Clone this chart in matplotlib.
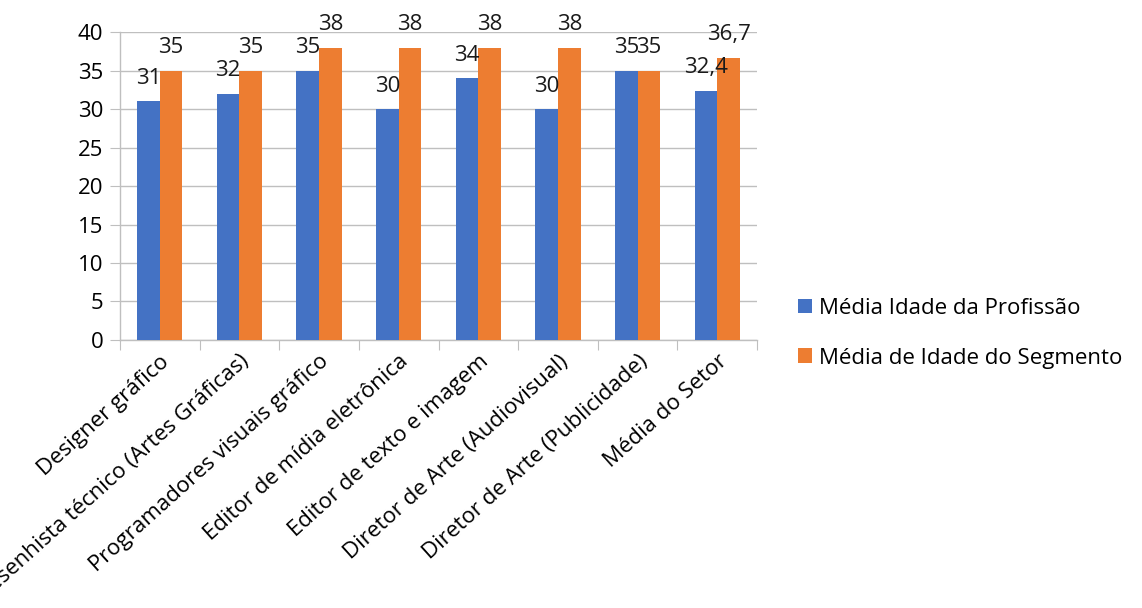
import matplotlib
matplotlib.use("Agg")
import matplotlib.pyplot as plt
import numpy as np

categorias = [
    "Designer gráfico",
    "Desenhista técnico (Artes Gráficas)",
    "Programadores visuais gráfico",
    "Editor de mídia eletrônica",
    "Editor de texto e imagem",
    "Diretor de Arte (Audiovisual)",
    "Diretor de Arte (Publicidade)",
    "Média do Setor",
]
idade_profissao = [31, 32, 35, 30, 34, 30, 35, 32.4]
idade_segmento = [35, 35, 38, 38, 38, 38, 35, 36.7]
series_nomes = ["Média Idade da Profissão", "Média de Idade do Segmento"]
y_ticks = [0, 5, 10, 15, 20, 25, 30, 35, 40]

AZUL = "#4472C4"
LARANJA = "#ED7D31"
CINZA = "#BFBFBF"

plt.rcParams["font.family"] = ["Open Sans", "DejaVu Sans"]
FS = 16


def fmt(v):
    s = f"{v:g}"
    return s.replace(".", ",")


fig = plt.figure(figsize=(11.42, 6.08), dpi=100)
ax = fig.add_axes([0.105, 0.441, 0.558, 0.506])

x = np.arange(len(categorias))
w = 0.285
b1 = ax.bar(x - w / 2, idade_profissao, w, color=AZUL, label=series_nomes[0], zorder=3)
b2 = ax.bar(x + w / 2, idade_segmento, w, color=LARANJA, label=series_nomes[1], zorder=3)

for bars, vals in ((b1, idade_profissao), (b2, idade_segmento)):
    for r, v in zip(bars, vals):
        ax.annotate(fmt(v), (r.get_x() + r.get_width() / 2, v),
                    xytext=(0, 9), textcoords="offset points",
                    ha="center", va="bottom", fontsize=FS, color="#1a1a1a",
                    zorder=4, annotation_clip=False)

ax.set_xlim(-0.5, len(categorias) - 0.5)
ax.set_ylim(0, 40)
ax.set_yticks(y_ticks)
ax.set_yticklabels([str(t) for t in y_ticks], fontsize=FS)
ax.yaxis.grid(True, color=CINZA, linewidth=1.0, zorder=0)
ax.tick_params(axis="y", length=7, color=CINZA, pad=5)

# category ticks sit on the boundaries between groups
ax.set_xticks(np.arange(len(categorias) + 1) - 0.5)
ax.set_xticklabels([])
ax.tick_params(axis="x", length=7, color=CINZA)
ax.set_xticks(x, minor=True)
ax.set_xticklabels(categorias, minor=True, rotation=42, ha="right",
                   rotation_mode="anchor", fontsize=FS)
ax.tick_params(axis="x", which="minor", length=0, pad=8)

for s in ("top", "right"):
    ax.spines[s].set_visible(False)
for s in ("left", "bottom"):
    ax.spines[s].set_color(CINZA)
    ax.spines[s].set_linewidth(1.0)

leg = fig.legend(handles=[b1, b2], labels=series_nomes, loc="center left",
                 bbox_to_anchor=(0.681, 0.452), frameon=False, fontsize=FS,
                 handlelength=0.65, handleheight=0.65, handletextpad=0.3,
                 labelspacing=1.3)

fig.savefig("out.png", dpi=100)
